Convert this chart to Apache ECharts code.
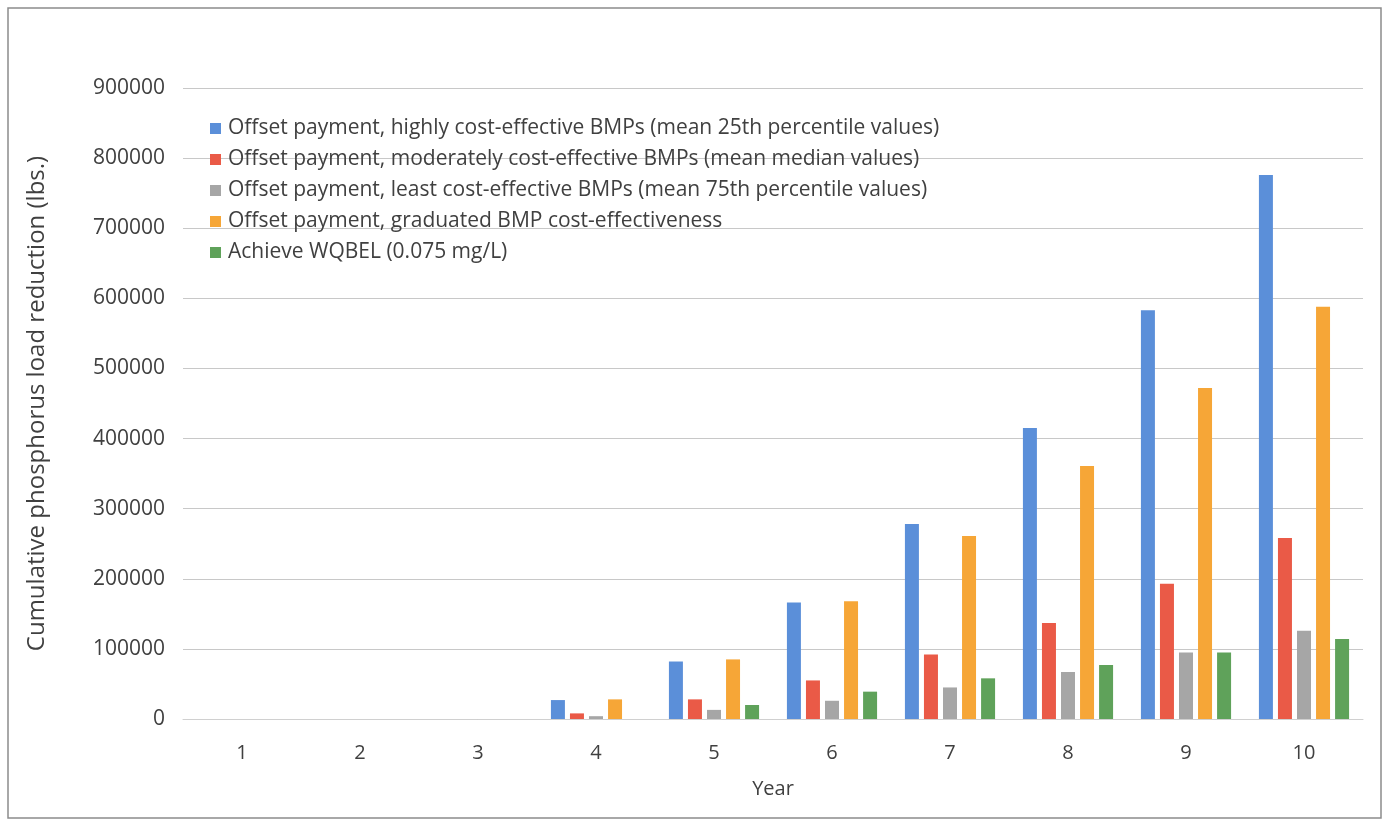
<!DOCTYPE html>
<html>
<head>
<meta charset="utf-8">
<script src="https://cdn.jsdelivr.net/npm/echarts@6/dist/echarts.min.js"></script>
<style>
  html, body { margin: 0; padding: 0; background: #ffffff; }
  #chart { width: 1389px; height: 825px; }
</style>
</head>
<body>
<div id="chart"></div>
<script>
// Years on the x axis
const years = ['1', '2', '3', '4', '5', '6', '7', '8', '9', '10'];

// Cumulative phosphorus load reduction (lbs.) per scenario
const highlyCostEffective = [0, 0, 0, 27000, 82000, 166000, 278000, 415000, 583000, 776000];
const moderatelyCostEffective = [0, 0, 0, 8000, 28000, 55000, 92000, 137000, 193000, 258000];
const leastCostEffective = [0, 0, 0, 4000, 13000, 26000, 45000, 67000, 95000, 126000];
const graduatedCostEffective = [0, 0, 0, 28000, 85000, 168000, 261000, 361000, 472000, 588000];
const achieveWqbel = [0, 0, 0, 0, 20000, 39000, 58000, 77000, 95000, 114000];

const seriesNames = [
  'Offset payment, highly cost-effective BMPs (mean 25th percentile values)',
  'Offset payment, moderately cost-effective BMPs (mean median values)',
  'Offset payment, least cost-effective BMPs (mean 75th percentile values)',
  'Offset payment, graduated BMP cost-effectiveness',
  'Achieve WQBEL (0.075 mg/L)'
];
const seriesValues = [highlyCostEffective, moderatelyCostEffective, leastCostEffective, graduatedCostEffective, achieveWqbel];
const colors = ['#5b8fd9', '#ea5a47', '#a6a6a6', '#f6a637', '#5fa25a'];

const FONT = '"Open Sans", "Liberation Sans", sans-serif';
const TEXT = '#404040';

const chart = echarts.init(document.getElementById('chart'), null, { renderer: 'canvas' });

chart.setOption({
  animation: false,
  backgroundColor: '#ffffff',
  color: colors,
  graphic: [{
    type: 'rect',
    shape: { x: 8, y: 8, width: 1373, height: 810 },
    style: { fill: 'none', stroke: '#8c8c8c', lineWidth: 1.5 },
    silent: true
  }],
  legend: {
    orient: 'vertical',
    left: 205,
    top: 113,
    itemWidth: 11,
    itemHeight: 11,
    itemGap: 10,
    icon: 'rect',
    textStyle: { fontFamily: FONT, fontSize: 21, color: TEXT, padding: [0, 0, 0, 2] },
    data: seriesNames
  },
  grid: { left: 183, right: 26, top: 88, bottom: 106, containLabel: false },
  xAxis: {
    type: 'category',
    data: years,
    name: 'Year',
    nameLocation: 'middle',
    nameGap: 60,
    nameTextStyle: { fontFamily: FONT, fontSize: 20, color: TEXT },
    axisLine: { show: true, lineStyle: { color: '#d0d0d0', width: 1 } },
    axisTick: { show: false },
    axisLabel: { fontFamily: FONT, fontSize: 20, color: TEXT, margin: 24 }
  },
  yAxis: {
    type: 'value',
    min: 0,
    max: 900000,
    interval: 100000,
    name: 'Cumulative phosphorus load reduction (lbs.)',
    nameLocation: 'middle',
    nameGap: 134,
    nameTextStyle: { fontFamily: FONT, fontSize: 24, color: TEXT },
    axisLine: { show: false },
    axisTick: { show: false },
    axisLabel: {
      fontFamily: FONT, fontSize: 21, color: TEXT, margin: 18,
      formatter: (v) => String(v)
    },
    splitLine: { lineStyle: { color: '#c8c8c8', width: 1 } }
  },
  series: seriesNames.map((name, i) => ({
    name: name,
    type: 'bar',
    data: seriesValues[i],
    barWidth: 14,
    barGap: '36%',
    itemStyle: { color: colors[i] }
  }))
});
</script>
</body>
</html>
